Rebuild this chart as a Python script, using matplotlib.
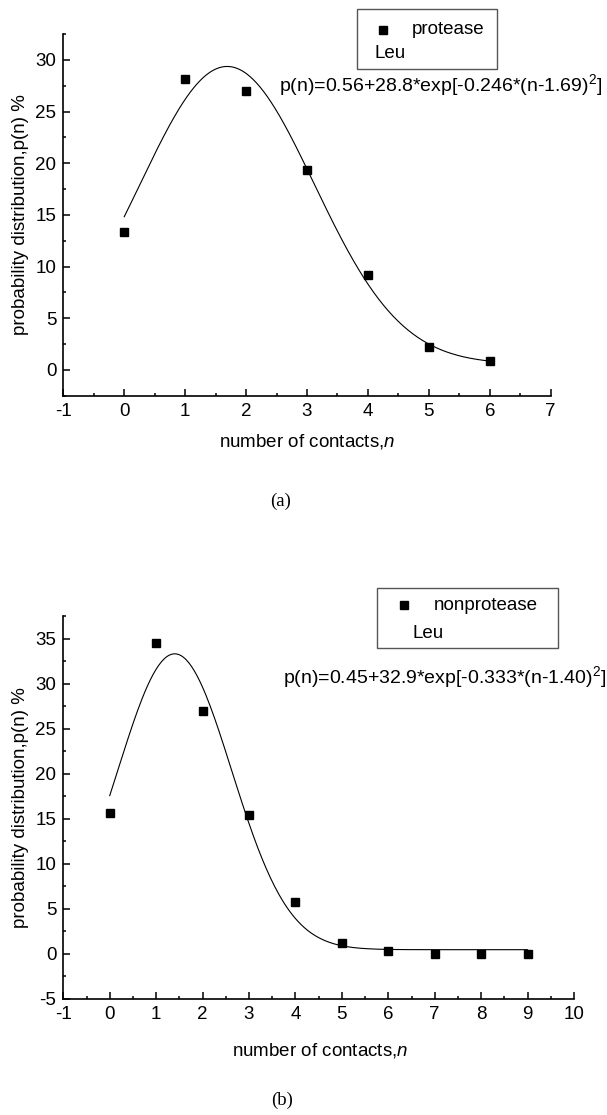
import numpy as np
import matplotlib
matplotlib.use("Agg")
import matplotlib.pyplot as plt
from matplotlib.ticker import MultipleLocator
from matplotlib.patches import Rectangle
from matplotlib.lines import Line2D

plt.rcParams['font.family'] = ['Liberation Sans', 'DejaVu Sans']
plt.rcParams['mathtext.fontset'] = 'custom'
plt.rcParams['mathtext.rm'] = 'Liberation Sans'
plt.rcParams['mathtext.it'] = 'Liberation Sans:italic'
plt.rcParams['axes.unicode_minus'] = False

# ---- data ----
n_a = [0, 1, 2, 3, 4, 5, 6]
p_a = [13.3, 28.1, 27.0, 19.3, 9.2, 2.2, 0.9]
fit_a = dict(y0=0.56, A=28.8, k=0.246, c=1.69)
legend_a = ["protease", "Leu"]
eq_a = r"p(n)=0.56+28.8*exp[-0.246*(n-1.69)$^2$]"

n_b = [0, 1, 2, 3, 4, 5, 6, 7, 8, 9]
p_b = [15.6, 34.5, 27.0, 15.4, 5.7, 1.2, 0.3, 0.0, 0.0, 0.0]
fit_b = dict(y0=0.45, A=32.9, k=0.333, c=1.40)
legend_b = ["nonprotease", "Leu"]
eq_b = r"p(n)=0.45+32.9*exp[-0.333*(n-1.40)$^2$]"

xlabel = r"number of contacts,$n$"
ylabel = "probability distribution,p(n) %"

FS = 13.5
W, H = 607, 1115
fig = plt.figure(figsize=(W / 100, H / 100), dpi=100)

def fx(x):
    return x / W

def fy(y):
    return 1 - y / H

def style(ax, xlim, ylim):
    ax.set_xlim(*xlim)
    ax.set_ylim(*ylim)
    for s in ['top', 'right']:
        ax.spines[s].set_visible(False)
    for s in ['left', 'bottom']:
        ax.spines[s].set_linewidth(1.2)
    ax.xaxis.set_major_locator(MultipleLocator(1))
    ax.xaxis.set_minor_locator(MultipleLocator(0.5))
    ax.yaxis.set_major_locator(MultipleLocator(5))
    ax.yaxis.set_minor_locator(MultipleLocator(2.5))
    ax.tick_params(which='major', direction='in', length=5, width=1.1,
                   labelsize=FS, pad=5)
    ax.tick_params(which='minor', direction='in', length=2.5, width=1.1)

def draw(ax, n, p, fit):
    ax.plot(n, p, 's', color='black', markersize=6, linestyle='none')
    xs = np.linspace(min(n), max(n), 300)
    ys = fit['y0'] + fit['A'] * np.exp(-fit['k'] * (xs - fit['c']) ** 2)
    ax.plot(xs, ys, color='black', lw=0.8)

def legend_box(left, right, top, bottom, mx, my, tx, lx, ly, labels):
    fig.add_artist(Rectangle((fx(left), fy(bottom)), fx(right) - fx(left),
                             fy(top) - fy(bottom), transform=fig.transFigure,
                             fill=False, edgecolor='#555555', lw=1.0))
    fig.add_artist(Line2D([fx(mx)], [fy(my)], marker='s', color='black',
                          markersize=6, linestyle='none',
                          transform=fig.transFigure))
    fig.text(fx(tx), fy(my), labels[0], fontsize=FS, ha='left', va='center')
    fig.text(fx(lx), fy(ly), labels[1], fontsize=FS, ha='left', va='center')

# ---- panel (a) ----
ax1 = fig.add_axes([fx(63.3), fy(395.8), fx(550.7) - fx(63.3), fy(34) - fy(395.8)])
style(ax1, (-1, 7), (-2.5, 32.5))
draw(ax1, n_a, p_a, fit_a)
legend_box(357, 497, 9, 69, 383, 30, 412, 375, 53, legend_a)
fig.text(fx(279), fy(85), eq_a, fontsize=14, ha='left', va='center')
fig.text(fx(307), fy(441.7), xlabel, fontsize=FS, ha='center', va='center')
fig.text(fx(21), fy(215), ylabel, fontsize=FS, ha='center', va='center', rotation=90)
fig.text(fx(281), fy(501), "(a)", fontsize=FS, ha='center', va='center',
         family='Liberation Serif')

# ---- panel (b) ----
ax2 = fig.add_axes([fx(63.3), fy(998.7), fx(574) - fx(63.3), fy(616.5) - fy(998.7)])
style(ax2, (-1, 10), (-5, 37.5))
draw(ax2, n_b, p_b, fit_b)
legend_box(377, 558, 588, 648, 404, 605, 434, 413, 633, legend_b)
fig.text(fx(283), fy(677), eq_b, fontsize=14, ha='left', va='center')
fig.text(fx(320), fy(1050), xlabel, fontsize=FS, ha='center', va='center')
fig.text(fx(21), fy(808), ylabel, fontsize=FS, ha='center', va='center', rotation=90)
fig.text(fx(282), fy(1100), "(b)", fontsize=FS, ha='center', va='center',
         family='Liberation Serif')

fig.savefig("out.png", dpi=100)
